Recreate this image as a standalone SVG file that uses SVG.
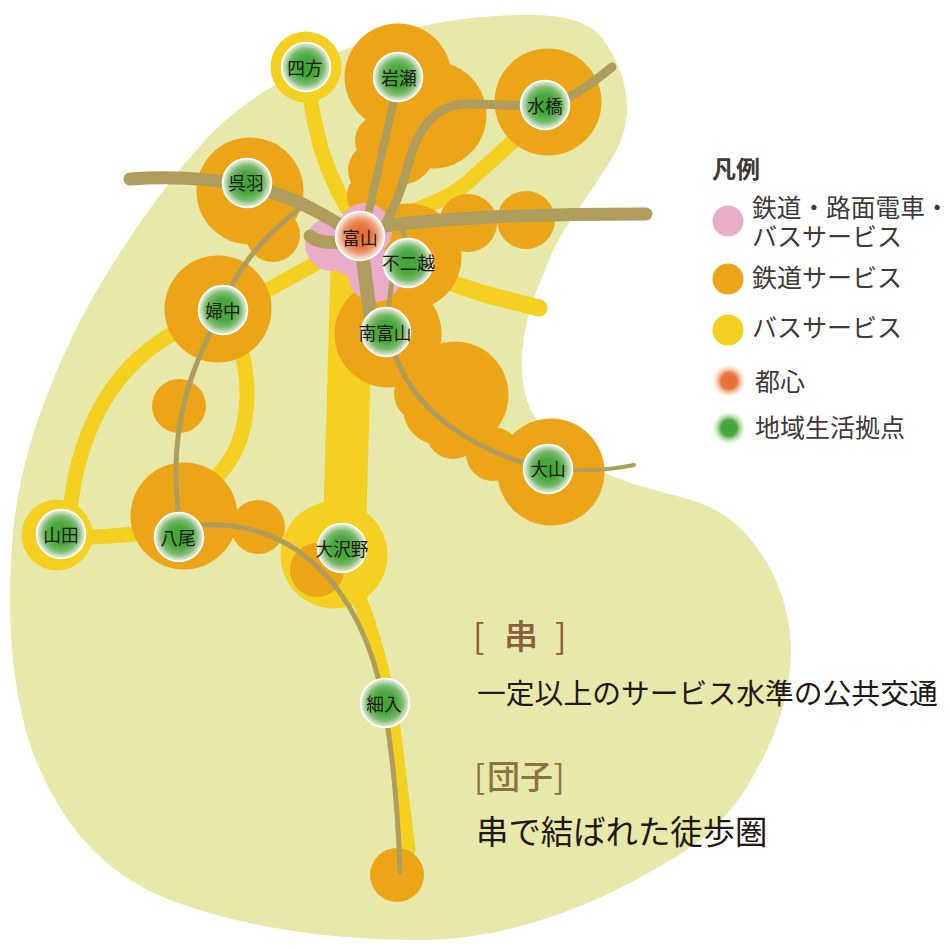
<svg xmlns="http://www.w3.org/2000/svg" width="950" height="949" viewBox="0 0 950 949">
<style>
.or{fill:#eca517}.ye{fill:#f4d020}.pk{fill:#e9adc8}
.by{fill:none;stroke:#f4d020;stroke-linecap:round}
.br{fill:none;stroke:#ae9d5c;stroke-linecap:round}
.ring{stroke:#fff;stroke-width:1.5}
.lb{font-family:"Noto Sans CJK JP","Liberation Sans",sans-serif;font-size:17.7px;fill:#231815;text-anchor:middle}
.t{font-family:"Noto Sans CJK JP","Liberation Sans",sans-serif;fill:#3e3a39}
.s{fill:#8c5e3c;font-size:34px}
.d{fill:#8a7340;font-size:33px}
</style>
<defs>
<radialGradient id="g"><stop offset="0" stop-color="#3fa535"/><stop offset=".45" stop-color="#4aa93f"/><stop offset=".72" stop-color="#7dbb70"/><stop offset=".9" stop-color="#c8dfc2"/><stop offset="1" stop-color="#f0f2ea"/></radialGradient>
<radialGradient id="r"><stop offset="0" stop-color="#e56a33"/><stop offset=".45" stop-color="#e8753f"/><stop offset=".72" stop-color="#ee9f78"/><stop offset=".9" stop-color="#f5d8c8"/><stop offset="1" stop-color="#f7efe8"/></radialGradient>
<radialGradient id="lg"><stop offset="0" stop-color="#3fa535"/><stop offset=".5" stop-color="#48a93e"/><stop offset="1" stop-color="#e8efd0" stop-opacity=".3"/></radialGradient>
<radialGradient id="lr"><stop offset="0" stop-color="#e56a33"/><stop offset=".5" stop-color="#e77640"/><stop offset="1" stop-color="#fbe8dc" stop-opacity=".3"/></radialGradient>
</defs>
<path id="area" fill="#e7e9ab" d="M530,15C565,15 590,22 602,38C618,60 628,85 627,112C626,145 603,172 580,207C562,232 552,250 545,270C530,305 522,330 522,365C522,395 530,412 542,427C560,450 590,468 625,481C650,490 680,495 705,505C755,525 791,590 791,650C790,700 775,740 747,787C720,830 690,850 650,872C610,895 520,940 420,940C340,940 250,930 170,900C105,875 60,825 32,750C15,700 9,640 10,590C11,530 17,490 30,445C45,395 70,335 100,285C130,235 175,170 215,130C250,95 300,70 340,52C375,37 440,15 530,15Z"/>
<g id="bus">
<path class="by" stroke-width="15" d="M309,92C316,130 320,160 347,208"/>
<path class="by" stroke-width="15" d="M518,137L467,183C450,197 430,205 405,214"/>
<path class="by" stroke-width="17" d="M445,280C480,295 510,300 539,308"/>
<path class="by" stroke-width="15" d="M335,253L262,293"/>
<path class="ye" d="M331,255H374L366,530H323Z"/>
<path class="by" stroke-width="15" stroke-linecap="butt" d="M358,595C372,630 385,680 392,720L408,850"/>
<path class="by" stroke-width="15" d="M85,537C105,537 125,535 145,533"/>
<path class="by" stroke-width="15" d="M70,510C80,420 120,360 180,330"/>
<path class="by" stroke-width="15" d="M216,477C245,450 255,400 240,345"/>
</g>
<g id="yellow-areas">
<circle class="ye" cx="334" cy="555" r="53.5"/>
<circle class="ye" cx="57" cy="535" r="35.5"/>
<circle class="ye" cx="306" cy="67" r="35.5"/>
</g>
<g id="orange-areas">
<circle class="or" cx="398" cy="77" r="53.5"/>
<circle class="or" cx="433" cy="115" r="53.5"/>
<circle class="or" cx="382" cy="141" r="27"/>
<circle class="or" cx="375" cy="170" r="27"/>
<circle class="or" cx="374" cy="196" r="27"/>
<circle class="or" cx="400" cy="150" r="35"/>
<circle class="or" cx="548" cy="102" r="53.5"/>
<circle class="or" cx="250" cy="191" r="53.5"/>
<circle class="or" cx="273" cy="235" r="27"/>
<circle class="or" cx="218" cy="309" r="53.5"/>
<circle class="or" cx="179" cy="406" r="27"/>
<circle class="or" cx="184" cy="516" r="53.5"/>
<circle class="or" cx="258" cy="527" r="27"/>
<circle class="or" cx="317" cy="570" r="27"/>
<circle class="or" cx="388" cy="334" r="53.5"/>
<circle class="or" cx="455" cy="395" r="53.5"/>
<circle class="or" cx="421" cy="394" r="27"/>
<circle class="or" cx="440" cy="408" r="37"/>
<circle class="or" cx="453" cy="432" r="27"/>
<circle class="or" cx="493" cy="454" r="27"/>
<circle class="or" cx="551" cy="472" r="53.5"/>
<circle class="or" cx="468" cy="223" r="29"/>
<circle class="or" cx="526" cy="220" r="29"/>
<circle class="or" cx="408" cy="257" r="53.5"/>
<circle class="or" cx="397" cy="875" r="27"/>
</g>
<g id="pink-areas">
<circle class="pk" cx="332" cy="244" r="27"/>
<circle class="pk" cx="365" cy="230" r="27"/>
<circle class="pk" cx="355" cy="250" r="27"/>
<circle class="pk" cx="375" cy="275" r="27"/>
</g>
<g id="connectors">
<path class="br" stroke-width="13" d="M130,179C180,175 240,180 280,195C310,205 340,225 360,237"/>
<path class="br" stroke-width="13" d="M310,236C318,243 330,243 350,242"/>
<path class="br" stroke-width="13" d="M385,226C450,217 550,214 646,214"/>
<path class="br" stroke-width="14" d="M362,250C364,270 367,290 371,318"/>
<path class="br" stroke-width="8" d="M394,100L368,215"/>
<path class="br" stroke-width="9" d="M385,225C395,205 402,190 408,165C417,130 435,104 467,104C490,104 520,106 545,106C570,100 590,85 612,67"/>
<path class="br" stroke-width="5" d="M402,228L407,245"/>
<path class="br" stroke-width="5" d="M392,280L388,312"/>
<path class="br" stroke-width="5" d="M392,345C410,410 470,450 548,470"/>
<path class="br" stroke-width="4" d="M570,470C590,471 610,470 634,465"/>
<path class="br" stroke-width="5" d="M301,207C260,240 235,270 222,310C195,360 168,420 178,510"/>
<path class="br" stroke-width="5" d="M200,525C290,520 360,580 384,703C392,750 398,810 400,872"/>
</g>
<g id="n-shikata"><circle class="ring" cx="306" cy="67" r="24.5" fill="url(#g)"/><text class="lb" x="305" y="74.5">四方</text></g>
<g id="n-iwase"><circle class="ring" cx="398" cy="77" r="24.5" fill="url(#g)"/><text class="lb" x="399" y="84.5">岩瀬</text></g>
<g id="n-mizuhashi"><circle class="ring" cx="545" cy="105" r="24.5" fill="url(#g)"/><text class="lb" x="545" y="113">水橋</text></g>
<g id="n-kureha"><circle class="ring" cx="247" cy="183" r="24.5" fill="url(#g)"/><text class="lb" x="246" y="190">呉羽</text></g>
<g id="n-fuchu"><circle class="ring" cx="223" cy="310" r="24.5" fill="url(#g)"/><text class="lb" x="223" y="317.5">婦中</text></g>
<g id="n-toyama"><circle class="ring" cx="360" cy="236" r="24.5" fill="url(#r)"/><text class="lb" x="360" y="245">富山</text></g>
<g id="n-fujikoshi"><circle class="ring" cx="408" cy="263" r="24.5" fill="url(#g)"/><text class="lb" x="408.5" y="270">不二越</text></g>
<g id="n-minamitoyama"><circle class="ring" cx="386" cy="332" r="24.5" fill="url(#g)"/><text class="lb" x="385" y="340">南富山</text></g>
<g id="n-oyama"><circle class="ring" cx="548" cy="469" r="24.5" fill="url(#g)"/><text class="lb" x="548" y="476">大山</text></g>
<g id="n-yamada"><circle class="ring" cx="61" cy="534" r="24.5" fill="url(#g)"/><text class="lb" x="61" y="541.5">山田</text></g>
<g id="n-yao"><circle class="ring" cx="179" cy="537" r="24.5" fill="url(#g)"/><text class="lb" x="178" y="545">八尾</text></g>
<g id="n-osawano"><circle class="ring" cx="342" cy="548" r="24.5" fill="url(#g)"/><text class="lb" x="342" y="556">大沢野</text></g>
<g id="n-hosoiri"><circle class="ring" cx="385" cy="703" r="24.5" fill="url(#g)"/><text class="lb" x="384" y="711">細入</text></g>
<g id="legend">
<text class="t" x="712" y="178" font-size="24" font-weight="700">凡例</text>
<circle class="pk" cx="728" cy="221" r="15.5"/>
<text class="t" x="752" y="217" font-size="24.7">鉄道・路面電車・</text>
<text class="t" x="752" y="246" font-size="25">バスサービス</text>
<circle class="or" cx="728" cy="279" r="15.5"/>
<text class="t" x="752" y="287" font-size="25">鉄道サービス</text>
<circle class="ye" cx="728" cy="330" r="15.5"/>
<text class="t" x="752" y="337" font-size="25">バスサービス</text>
<circle cx="729" cy="381" r="16" fill="url(#lr)"/>
<text class="t" x="755" y="391" font-size="25">都心</text>
<circle cx="729" cy="428" r="16" fill="url(#lg)"/>
<text class="t" x="755" y="437" font-size="25">地域生活拠点</text>
</g>
<g id="notes">
<text class="t s" x="473" y="649">[</text>
<text class="t s" x="504" y="649" font-weight="500">串</text>
<text class="t s" x="555" y="649">]</text>
<text class="t" x="477" y="704" font-size="28.8" style="fill:#231815">一定以上のサービス水準の公共交通</text>
<text class="t d" x="474" y="789">[</text>
<text class="t d" x="487" y="789" font-weight="500">団子</text>
<text class="t d" x="553.5" y="789">]</text>
<text class="t" x="476" y="844" font-size="32.4" style="fill:#231815">串で結ばれた徒歩圏</text>
</g>
</svg>
